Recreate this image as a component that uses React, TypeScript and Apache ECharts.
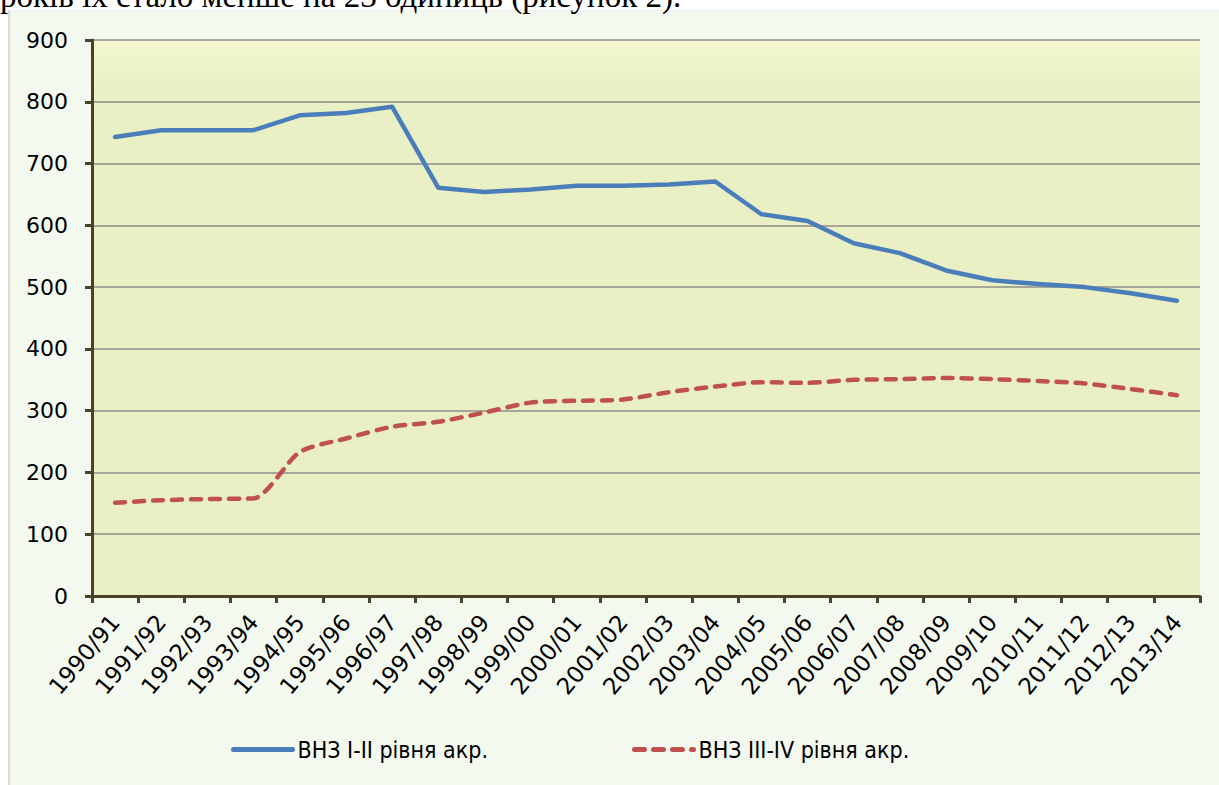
import React, { useEffect, useRef } from "react";
import * as echarts from "echarts";

const categories = [
  "1990/91", "1991/92", "1992/93", "1993/94", "1994/95", "1995/96", "1996/97", "1997/98",
  "1998/99", "1999/00", "2000/01", "2001/02", "2002/03", "2003/04", "2004/05", "2005/06",
  "2006/07", "2007/08", "2008/09", "2009/10", "2010/11", "2011/12", "2012/13", "2013/14",
];
const seriesNames = ["ВНЗ I-II рівня акр.", "ВНЗ III-IV рівня акр."];
const levelOneTwo = [743, 754, 754, 754, 778, 782, 792, 661, 654, 658, 664, 664, 666, 671, 618, 607, 571, 555, 527, 511, 505, 500, 490, 478];
const levelThreeFour = [151, 155, 157, 158, 233, 255, 274, 282, 297, 313, 316, 318, 330, 339, 346, 345, 350, 351, 353, 351, 348, 344, 335, 325];
const yMin = 0;
const yMax = 900;
const yStep = 100;
const headerText = "років їх стало менше на 23 одиниць (рисунок 2).";

export default function App() {
  const ref = useRef<HTMLDivElement>(null);
  useEffect(() => {
    if (!ref.current) return;
    const chart = echarts.init(ref.current, undefined, { renderer: "svg" });
    const axisFont = '"DejaVu Sans", Verdana, sans-serif';
    const legendFont = '"DejaVu Sans Condensed", "DejaVu Sans", sans-serif';
    const legendCommon = {
      top: 738,
      padding: 0,
      itemWidth: 59,
      itemHeight: 14,
      itemGap: 6,
      itemStyle: { opacity: 0 },
      lineStyle: { width: 5 },
      textStyle: { fontFamily: legendFont, fontSize: 23, color: "#000" },
    };
    chart.setOption({
      animation: false,
      graphic: [
        {
          type: "text",
          left: 0,
          top: -21,
          style: { text: headerText, font: '33px "Liberation Serif", "Times New Roman", serif', fill: "#000" },
        },
      ],
      grid: {
        left: 92,
        right: 19,
        top: 40,
        bottom: 189,
        show: true,
        borderWidth: 0,
        backgroundColor: new echarts.graphic.LinearGradient(0, 0, 0, 1, [
          { offset: 0, color: "#f4f7cf" },
          { offset: 0.08, color: "#eaf0c5" },
          { offset: 1, color: "#e8efc2" },
        ]),
      },
      legend: [
        { ...legendCommon, data: [seriesNames[0]], left: 231 },
        { ...legendCommon, data: [seriesNames[1]], left: 632 },
      ],
      xAxis: {
        type: "category",
        data: categories,
        boundaryGap: true,
        axisLine: { show: true, lineStyle: { color: "#4a4227", width: 3 } },
        axisTick: { show: true, length: 7, lineStyle: { color: "#4a4227", width: 3 } },
        axisLabel: {
          rotate: 50,
          margin: 22,
          fontFamily: axisFont,
          fontSize: 23,
          color: "#000",
          interval: 0,
        },
        splitLine: { show: false },
      },
      yAxis: {
        type: "value",
        min: yMin,
        max: yMax,
        interval: yStep,
        axisLine: { show: true, lineStyle: { color: "#4a4227", width: 3 } },
        axisTick: { show: true, length: 7, lineStyle: { color: "#4a4227", width: 3 } },
        axisLabel: { margin: 24, fontFamily: axisFont, fontSize: 22, color: "#000" },
        splitLine: { show: true, lineStyle: { color: "#8e8e8a", width: 1.5 } },
      },
      series: [
        {
          name: seriesNames[0],
          type: "line",
          data: levelOneTwo,
          symbol: "none",
          smooth: false,
          lineStyle: { color: "#4a7ebb", width: 4.5, cap: "round", join: "round" },
          itemStyle: { color: "#4a7ebb" },
        },
        {
          name: seriesNames[1],
          type: "line",
          data: levelThreeFour,
          symbol: "none",
          smooth: 0.25,
          lineStyle: { color: "#c0504d", width: 4.5, type: [10, 9], cap: "round", join: "round" },
          itemStyle: { color: "#c0504d" },
        },
      ],
    });
    return () => chart.dispose();
  }, []);

  return (
    <div style={{ position: "fixed", left: 0, top: 0, width: 1219, height: 785, background: "#fff", overflow: "hidden" }}>
      <div
        style={{
          position: "absolute",
          left: 8,
          top: 10,
          width: 1211,
          height: 775,
          background: "#f4f9f0",
          borderLeft: "2px solid #d9dcd6",
          borderTop: "1px solid #eef1ec",
          boxSizing: "border-box",
        }}
      />
      <div ref={ref} style={{ position: "absolute", left: 0, top: 0, width: 1219, height: 785 }} />
    </div>
  );
}
